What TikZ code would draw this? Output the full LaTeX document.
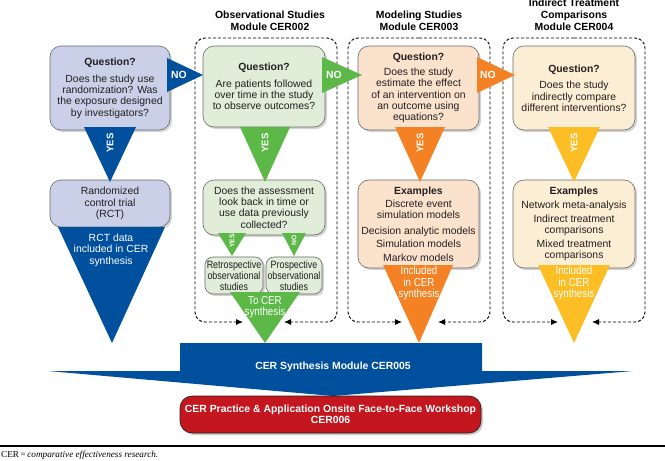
\documentclass[tikz,border=0pt]{standalone}
\usepackage{fontspec}
\setmainfont{Liberation Sans}
\newfontfamily\narrowfont[FakeStretch=0.84]{Liberation Sans}
\newfontfamily\notefont{Liberation Serif}
\usetikzlibrary{arrows.meta,shadows}

\definecolor{cerblue}{RGB}{0,80,158}
\definecolor{cerbluel}{RGB}{201,208,232}
\definecolor{cergreen}{RGB}{92,185,71}
\definecolor{cergreenl}{RGB}{224,237,216}
\definecolor{cerorange}{RGB}{244,130,36}
\definecolor{cerorangel}{RGB}{251,226,205}
\definecolor{ceryellow}{RGB}{252,190,36}
\definecolor{ceryellowl}{RGB}{252,238,212}
\definecolor{cerred}{RGB}{196,22,30}
\definecolor{boxgray}{RGB}{105,105,105}
\definecolor{txtgray}{RGB}{35,31,32}

\begin{document}
\begin{tikzpicture}[x=1pt,y=-1pt,
  qbox/.style={draw=boxgray,line width=0.6pt,rounded corners=11pt,align=center,inner sep=1pt,
    text=txtgray,font=\fontsize{10.4}{11.3}\selectfont,
    drop shadow={shadow xshift=2pt,shadow yshift=-2pt,opacity=0.35}},
  smallbox/.style={qbox,rounded corners=8pt,font=\narrowfont\fontsize{10.6}{11}\selectfont},
  grptitle/.style={align=center,font=\bfseries\fontsize{10.4}{11.8}\selectfont},
  grpline/.style={dash pattern=on 3pt off 2pt,line width=0.9pt,rounded corners=10pt,
    -{Latex[length=7pt,width=6pt]}},
  arrowlbl/.style={text=white,font=\bfseries\fontsize{10.4}{11}\selectfont,inner sep=0pt},
  yeslbl/.style={arrowlbl,rotate=90,font=\bfseries\fontsize{9.6}{11}\selectfont},
  tinylbl/.style={arrowlbl,rotate=90,font=\bfseries\fontsize{6.8}{8}\selectfont},
  innerlbl/.style={text=white,align=center,inner sep=0pt,font=\fontsize{10.4}{11.4}\selectfont},
  narrowlbl/.style={innerlbl,font=\narrowfont\fontsize{11.6}{11.3}\selectfont}]
  \useasboundingbox (0,0) rectangle (665,461);

  % group titles
  \node (obstitle) at (270,21) [grptitle] {Observational Studies\\Module CER002};
  \node (modtitle) at (419,21) [grptitle] {Modeling Studies\\Module CER003};
  \node (itctitle) at (574,15) [grptitle] {Indirect Treatment\\Comparisons\\Module CER004};

  % dashed group outlines, open at the bottom
  \coordinate (obsL) at (243,322);
  \coordinate (obsR) at (284,322);
  \coordinate (modL) at (402,322);
  \coordinate (modR) at (438,322);
  \coordinate (itcL) at (558,322);
  \coordinate (itcR) at (592,322);
  \draw[grpline] (266,38) -- (195,38) -- (195,322) -- (obsL);
  \draw[grpline] (266,38) -- (337,38) -- (337,322) -- (obsR);
  \draw[grpline] (419,38) -- (348,38) -- (348,322) -- (modL);
  \draw[grpline] (419,38) -- (490,38) -- (490,322) -- (modR);
  \draw[grpline] (574,38) -- (503,38) -- (503,322) -- (itcL);
  \draw[grpline] (574,38) -- (645,38) -- (645,322) -- (itcR);

  % question boxes
  \node (q1) at (110,88) [qbox,fill=cerbluel,minimum width=120pt,minimum height=84pt]
    {\textbf{Question?}\\[6pt]Does the study use\\randomization? Was\\the exposure designed\\by investigators?};
  \node (q2) at (264,86.5) [qbox,fill=cergreenl,minimum width=122pt,minimum height=81pt]
    {\textbf{Question?}\\[5.5pt]Are patients followed\\over time in the study\\to observe outcomes?};
  \node (q3) at (418.5,88) [qbox,fill=cerorangel,minimum width=121pt,minimum height=84pt]
    {\textbf{Question?}\\[3.7pt]Does the study\\estimate the effect\\of an intervention on\\an outcome using\\equations?};
  \node (q4) at (574,88) [qbox,fill=ceryellowl,minimum width=122pt,minimum height=84pt]
    {\textbf{Question?}\\[5.5pt]Does the study\\indirectly compare\\different interventions?};

  % second row
  \node (rct) at (110,203.5) [qbox,fill=cerbluel,minimum width=120pt,minimum height=47pt]
    {Randomized\\control trial\\(RCT)};
  \node (look) at (264,207.5) [qbox,fill=cergreenl,minimum width=122pt,minimum height=55pt]
    {Does the assessment\\look back in time or\\use data previously\\collected?};
  \node (ex3) at (418.5,224) [qbox,fill=cerorangel,minimum width=121pt,minimum height=88pt]
    {\textbf{Examples}\\[1.7pt]Discrete event\\simulation models\\[4.5pt]Decision analytic models\\[1.7pt]Simulation models\\[2.7pt]Markov models};
  \node (ex4) at (574,224) [qbox,fill=ceryellowl,minimum width=122pt,minimum height=88pt]
    {\textbf{Examples}\\[2.7pt]Network meta-analysis\\[2.7pt]Indirect treatment\\comparisons\\[2.7pt]Mixed treatment\\comparisons};

  % small yes / no under the look-back box
  \fill[cergreen] (218,233) -- (246,233) -- (232,256) -- cycle;
  \fill[cergreen] (282,233) -- (306,233) -- (294,256) -- cycle;
  \node (yesS) at (232,241) [tinylbl] {YES};
  \node (noS) at (294,240) [tinylbl] {NO};

  \node (retro) at (234,275.5) [smallbox,fill=cergreenl,minimum width=58pt,minimum height=37pt]
    {Retrospective\\observational\\studies};
  \node (prosp) at (294,275.5) [smallbox,fill=cergreenl,minimum width=56pt,minimum height=37pt]
    {Prospective\\observational\\studies};

  % NO arrows
  \fill[cerblue] (167,58) -- (203,75) -- (167,92) -- cycle;
  \fill[cergreen] (322,57) -- (362,75) -- (322,93) -- cycle;
  \fill[cerorange] (477,57) -- (515,75) -- (477,93) -- cycle;
  \node (no1) at (179,75) [arrowlbl] {NO};
  \node (no2) at (334,75) [arrowlbl] {NO};
  \node (no3) at (488,75) [arrowlbl] {NO};

  % YES arrows
  \fill[cerblue] (84,127) -- (136,127) -- (110,182) -- cycle;
  \fill[cergreen] (240,127) -- (290,127) -- (265,182) -- cycle;
  \fill[cerorange] (395,127) -- (445,127) -- (420,182) -- cycle;
  \fill[ceryellow] (548,127) -- (600,127) -- (574,182) -- cycle;
  \node (yes1) at (110,143) [yeslbl] {YES};
  \node (yes2) at (265,143) [yeslbl] {YES};
  \node (yes3) at (420,143) [yeslbl] {YES};
  \node (yes4) at (574,143) [yeslbl] {YES};

  % big arrows into the synthesis
  \fill[cerblue] (58,227) -- (165,227) -- (112,343) -- cycle;
  \fill[cergreen] (230,292) -- (300,292) -- (265,343) -- cycle;
  \fill[cerorange] (383,265) -- (453,265) -- (419,343) -- cycle;
  \fill[ceryellow] (538,265) -- (610,265) -- (574,343) -- cycle;
  \node (rctin) at (111,250) [innerlbl] {RCT data\\included in CER\\synthesis};
  \node (obsin) at (265,307) [narrowlbl] {To CER\\synthesis};
  \node (modin) at (419,283) [narrowlbl] {Included\\in CER\\synthesis};
  \node (itcin) at (574,283) [narrowlbl] {Included\\in CER\\synthesis};

  % synthesis banner
  \fill[cerblue] (180,343) -- (482,343) -- (482,371) -- (633,371) -- (333,396)
    -- (48,371) -- (180,371) -- cycle;
  \node (synth) at (333,367) [arrowlbl] {CER Synthesis Module CER005};

  % workshop
  \node (work) at (330.5,414.5) [draw=txtgray,line width=0.6pt,fill=cerred,rounded corners=12pt,
    minimum width=301pt,minimum height=37pt,align=center,text=white,
    font=\bfseries\fontsize{10.4}{11.3}\selectfont,
    drop shadow={shadow xshift=2pt,shadow yshift=-2pt,opacity=0.4}]
    {CER Practice \& Application Onsite Face-to-Face Workshop\\CER006};

  % footnote
  \draw[line width=1.2pt] (0,446) -- (665,446);
  \node (note) at (0,455) [anchor=west,inner sep=1pt,font=\notefont\fontsize{9.2}{10}\selectfont]
    {CER\,=\,\textit{comparative effectiveness research.}};
\end{tikzpicture}
\end{document}
